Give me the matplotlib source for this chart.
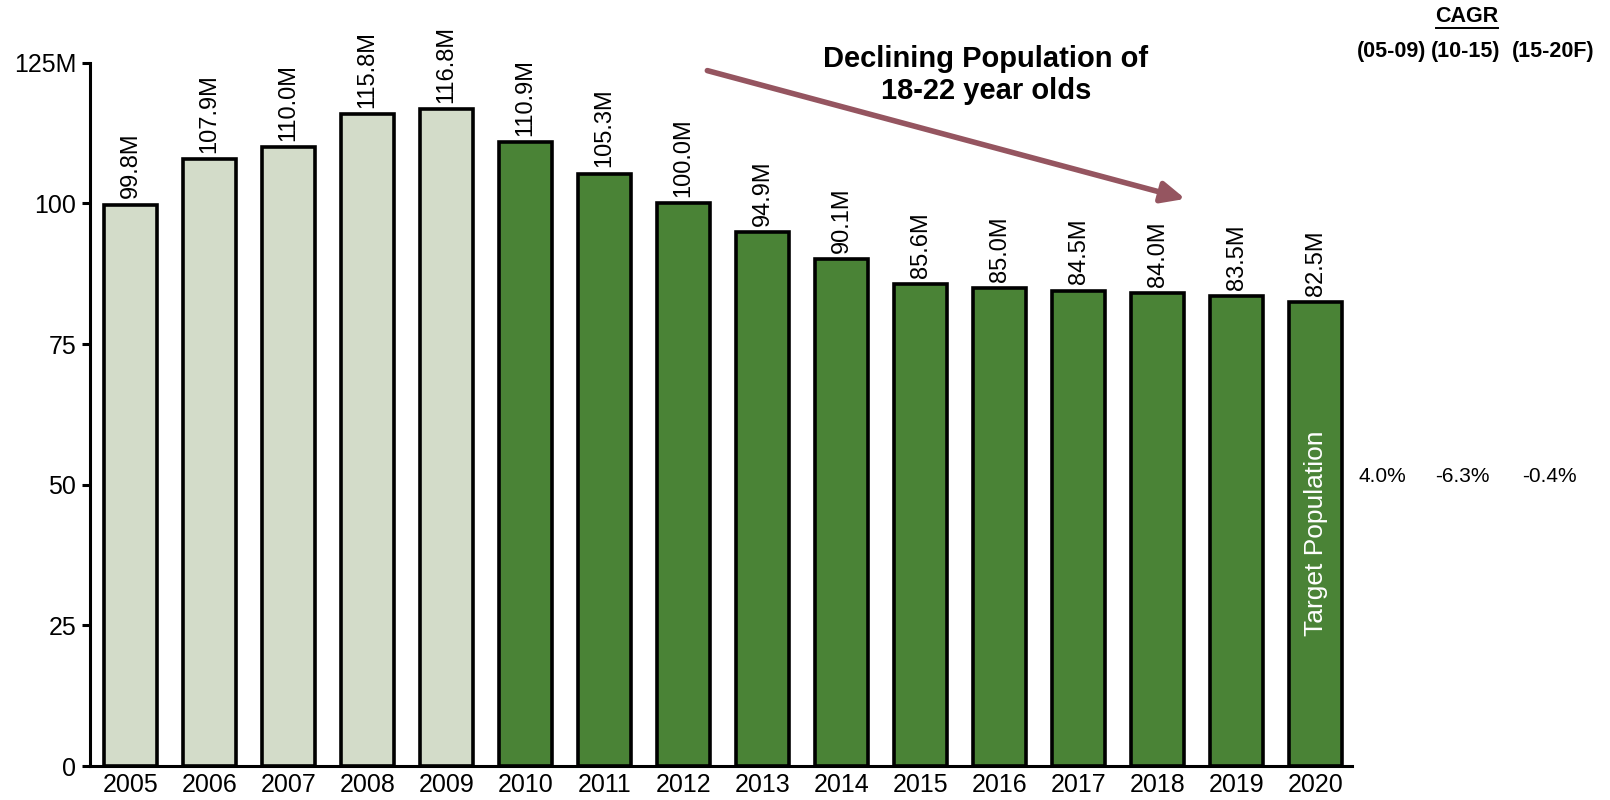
import matplotlib
matplotlib.use("Agg")
import matplotlib.pyplot as plt

plt.rcParams['font.family'] = ['Liberation Sans', 'DejaVu Sans']

years = ['2005', '2006', '2007', '2008', '2009', '2010', '2011', '2012',
         '2013', '2014', '2015', '2016', '2017', '2018', '2019', '2020']
population_m = [99.8, 107.9, 110.0, 115.8, 116.8, 110.9, 105.3, 100.0,
                94.9, 90.1, 85.6, 85.0, 84.5, 84.0, 83.5, 82.5]
historical_count = 5  # 2005-2009 drawn in the pale fill

y_ticks = [0, 25, 50, 75, 100, 125]
y_tick_labels = ['0', '25', '50', '75', '100', '125M']

cagr_periods = ['(05-09)', '(10-15)', '(15-20F)']
cagr_values = ['4.0%', '-6.3%', '-0.4%']

pale = '#D3DCC9'
green = '#4A8336'
arrow_color = '#955560'

fig = plt.figure(figsize=(16.1, 8), dpi=100)
ax = fig.add_axes([0.0559, 0.0425, 0.7839, 0.8791])

x = list(range(len(years)))
colors = [pale if i < historical_count else green for i in x]
bars = ax.bar(x, population_m, width=0.67, color=colors,
              edgecolor='black', linewidth=2.6, zorder=3)

for xi, v in zip(x, population_m):
    ax.annotate(f'{v:.1f}M', xy=(xi, v), xytext=(0, 4.5),
                textcoords='offset points', rotation=90,
                ha='center', va='bottom', fontsize=17)

ax.set_xlim(-0.513, 15.46)
ax.set_ylim(0, 125)
ax.set_xticks(x)
ax.set_xticklabels(years, fontsize=18)
ax.set_yticks(y_ticks)
ax.set_yticklabels(y_tick_labels, fontsize=18)
ax.tick_params(axis='x', length=0, pad=5)
ax.tick_params(axis='y', length=6, width=2.2, pad=4)

for side in ('top', 'right'):
    ax.spines[side].set_visible(False)
for side in ('left', 'bottom'):
    ax.spines[side].set_linewidth(2.2)

# label inside the final bar
ax.text(x[-1], 41.3, 'Target Population', rotation=90, color='white',
        ha='center', va='center', fontsize=19, zorder=4)

# trend arrow and caption
ax.annotate('', xy=(13.35, 100.8), xytext=(7.3, 123.6),
            xycoords='data', textcoords='data', annotation_clip=False,
            arrowprops=dict(arrowstyle='-|>,head_length=0.7,head_width=0.32',
                            mutation_scale=20, lw=4, color=arrow_color,
                            shrinkA=0, shrinkB=0))
fig.text(986 / 1610, 1 - 75 / 800, 'Declining Population of\n18-22 year olds',
         ha='center', va='center', fontsize=21, fontweight='bold',
         linespacing=1.15)

# CAGR table on the right
fig.text(1467 / 1610, 1 - 17 / 800, 'CAGR', ha='center', va='center',
         fontsize=15.5, fontweight='bold')
fig.add_artist(plt.Line2D([1436 / 1610, 1498 / 1610],
                          [1 - 28 / 800, 1 - 28 / 800],
                          color='black', lw=1.4))
period_x = [1392, 1466, 1553]
for px, lab in zip(period_x, cagr_periods):
    fig.text(px / 1610, 1 - 52 / 800, lab, ha='center', va='center',
             fontsize=15.5, fontweight='bold')
value_x = [1382, 1462, 1549]
for px, lab in zip(value_x, cagr_values):
    fig.text(px / 1610, 1 - 477 / 800, lab, ha='center', va='center',
             fontsize=15)

fig.savefig('out.png', dpi=100)
